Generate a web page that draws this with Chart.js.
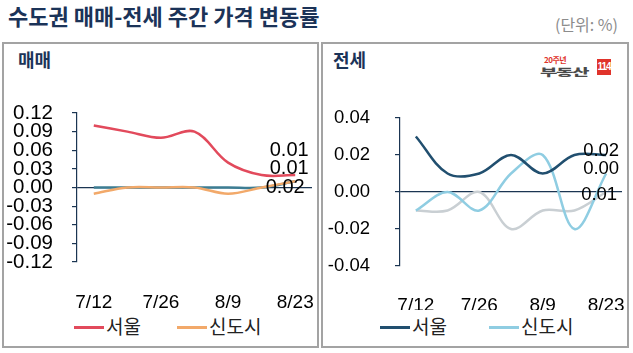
<!DOCTYPE html>
<html>
<head>
<meta charset="utf-8">
<script src="https://cdn.jsdelivr.net/npm/chart.js@4.4.1/dist/chart.umd.min.js"></script>
<style>
body { margin: 0; width: 633px; height: 353px; background: #fff; position: relative; overflow: hidden; font-family: 'Noto Sans CJK KR', sans-serif; }
.abs { position: absolute; }
#title { left: 8px; top: 4px; font-size: 22px; line-height: 22px; font-weight: 700; color: #1b3358; white-space: nowrap; }
#unit { right: 15px; top: 16px; font-size: 16px; line-height: 16px; color: #8c8c8c; }
.panel { top: 42px; height: 302px; border: 2px solid #a3a3a3; }
.ptitle { top: 50px; font-size: 18px; line-height: 18px; font-weight: 700; color: #1b3358; }
.leg { top: 316px; font-size: 19px; line-height: 20px; color: #222; white-space: nowrap; }
.leg i { display: inline-block; width: 30px; height: 3px; vertical-align: middle; margin-right: 2px; position: relative; top: -1px; }
#logo { left: 540px; top: 56px; width: 72px; height: 22px; }
canvas { position: absolute; top: 90px; }
</style>
</head>
<body>
<div id="title" class="abs">수도권 매매-전세 주간 가격 변동률</div>
<div id="unit" class="abs">(단위: %)</div>

<div class="abs panel" style="left:2px;width:313px"></div>
<div class="abs panel" style="left:321px;width:304px"></div>
<div class="abs ptitle" style="left:18px">매매</div>
<div class="abs ptitle" style="left:333px">전세</div>

<div id="logo" class="abs">
  <div class="abs" style="left:4px;top:0px;font-size:8px;line-height:8px;font-weight:700;color:#e0332b;letter-spacing:-0.5px">20주년</div>
  <div class="abs" style="left:0;top:2px;font-size:19px;line-height:19px;font-weight:900;color:#4a4a4a;letter-spacing:-1.5px;transform:scaleY(0.55);transform-origin:0 100%">부동산</div>
  <div class="abs" style="left:57px;top:3px;width:14px;height:16px;background:#e0332b;color:#fff;font-family:'Liberation Sans Narrow','Liberation Sans',sans-serif;font-size:10px;line-height:16px;font-weight:700;text-align:center;letter-spacing:-1px">114</div>
</div>

<canvas id="sale" width="318" height="220" style="left:0"></canvas>
<canvas id="jeonse" width="313" height="220" style="left:320px"></canvas>

<div class="abs leg" style="left:74px"><i style="background:#e24a5c"></i>서울</div>
<div class="abs leg" style="left:177px"><i style="background:#f2a96a"></i>신도시</div>
<div class="abs leg" style="left:380px"><i style="background:#214f6f"></i>서울</div>
<div class="abs leg" style="left:489px"><i style="background:#8fcde2"></i>신도시</div>

<script>
// weekly dates, only every other one labelled
const weeks = ['7/12', '7/19', '7/26', '8/2', '8/9', '8/16', '8/23'];
const shownWeeks = ['7/12', '7/26', '8/9', '8/23'];

// 매매 (sale) weekly change, %
const saleTicks = [-0.12, -0.09, -0.06, -0.03, 0, 0.03, 0.06, 0.09, 0.12];
const seoulSale = [0.10, 0.09, 0.08, 0.09, 0.04, 0.02, 0.02];
const newtownSale = [-0.01, 0, 0, 0, -0.01, 0, 0.01];
const gyeonginSale = [0, 0, 0, 0, 0, 0, 0.01];
const saleEndLabels = ['0.01', '0.01', '0.02'];

// 전세 (jeonse) weekly change, %
const jeonseTicks = [-0.04, -0.02, 0, 0.02, 0.04];
const seoulJeonse = [0.03, 0.01, 0.01, 0.02, 0.01, 0.02, 0.02];
const newtownJeonse = [-0.01, 0, -0.01, 0.01, 0.02, -0.02, 0.01];
const gyeonginJeonse = [-0.01, -0.01, 0, -0.02, -0.01, -0.01, 0];
const jeonseEndLabels = ['0.02', '0.00', '0.01'];

const AXIS = '#1b3552';
const FONT = "'Liberation Sans', Arial, sans-serif";

// last-value labels next to the end of each line
const endLabels = {
    id: 'endLabels',
    afterDatasetsDraw(chart, args, opts) {
        const ctx = chart.ctx;
        ctx.save();
        ctx.font = opts.size + 'px ' + FONT;
        ctx.fillStyle = '#000';
        ctx.textAlign = 'center';
        ctx.textBaseline = 'middle';
        opts.texts.forEach((t, i) => {
            const pts = chart.getDatasetMeta(i).data;
            const p = pts[pts.length - 1];
            const off = opts.offsets[i];
            ctx.fillText(t, p.x + off[0], p.y + off[1]);
        });
        ctx.restore();
    }
};

function makeChart(id, series, ticks, cfg) {
    return new Chart(document.getElementById(id), {
        type: 'line',
        data: {
            labels: weeks,
            datasets: series.map(s => ({
                label: s.label,
                data: s.data,
                borderColor: s.color,
                borderWidth: 2.5,
                pointRadius: 0,
                tension: 0.35,
                fill: false,
            }))
        },
        options: {
            responsive: false,
            animation: false,
            layout: { padding: { top: cfg.top, right: cfg.right, left: 0, bottom: 0 } },
            plugins: {
                legend: { display: false },
                tooltip: { enabled: false },
                endLabels: { texts: cfg.labels, offsets: cfg.offsets, size: cfg.labelSize },
            },
            scales: {
                x: {
                    offset: true,
                    grid: { display: false },
                    border: { display: false },
                    ticks: {
                        autoSkip: false,
                        maxRotation: 0,
                        padding: cfg.xPad,
                        color: '#000',
                        font: { family: FONT, size: 19 },
                        callback: (v, i) => shownWeeks.includes(weeks[i]) ? weeks[i] : '',
                    },
                    // keep the plot area where the reference has it
                    afterFit: s => { s.height = cfg.xHeight; s.paddingLeft = 0; s.paddingRight = 0; },
                },
                y: {
                    min: ticks[0],
                    max: ticks[ticks.length - 1],
                    afterBuildTicks: s => { s.ticks = ticks.map(v => ({ value: v })); },
                    grid: {
                        drawOnChartArea: true,
                        color: c => (c.tick && c.tick.value === 0) ? AXIS : 'rgba(0,0,0,0)',
                        tickColor: AXIS,
                        tickLength: 5,
                        lineWidth: 1.2,
                    },
                    border: { display: true, color: AXIS, width: 1.2 },
                    ticks: {
                        autoSkip: false,
                        padding: cfg.yPad,
                        color: '#000',
                        font: { family: FONT, size: cfg.ySize },
                        callback: v => v.toFixed(2),
                    },
                    afterFit: s => { s.width = cfg.yWidth; s.paddingTop = 0; s.paddingBottom = 0; },
                }
            }
        },
        plugins: [endLabels]
    });
}

makeChart('sale', [
    { label: '서울', data: seoulSale, color: '#e24a5c' },
    { label: '신도시', data: newtownSale, color: '#f2a96a' },
    { label: '경기·인천', data: gyeonginSale, color: '#3d7d93' },
], saleTicks, {
    top: 23, right: 6, yWidth: 77, yPad: 19, ySize: 20.5, xPad: 21, xHeight: 48,
    labels: saleEndLabels, offsets: [[-6, -25], [-6, -13], [-10, 6]], labelSize: 20,
});

makeChart('jeonse', [
    { label: '서울', data: seoulJeonse, color: '#214f6f' },
    { label: '신도시', data: newtownJeonse, color: '#8fcde2' },
    { label: '경기·인천', data: gyeonginJeonse, color: '#c9cfd3' },
], jeonseTicks, {
    top: 28, right: 11, yWidth: 80, yPad: 25, ySize: 18.5, xPad: 20, xHeight: 44,
    labels: jeonseEndLabels, offsets: [[-5, -4], [-5, -5], [-7, 3]], labelSize: 18.5,
});
</script>
</body>
</html>
